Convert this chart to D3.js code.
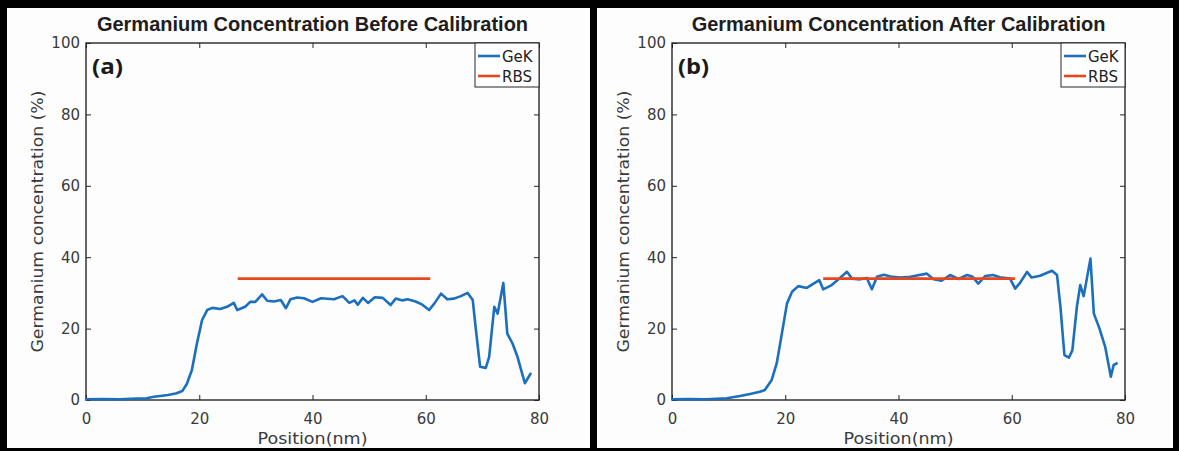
<!DOCTYPE html>
<html><head><meta charset="utf-8">
<script src="https://cdn.jsdelivr.net/npm/d3@7"></script>
<style>body{margin:0;background:#000}svg{display:block}</style>
</head><body><svg id="c" width="1179" height="451"></svg>
<script>
// ---------- data ----------
const titles = ["Germanium Concentration Before Calibration", "Germanium Concentration After Calibration"];
const tags = ["(a)", "(b)"];
const xLabel = "Position(nm)";
const yLabel = "Germanium concentration (%)";
const seriesNames = ["GeK", "RBS"];
const xTicks = [0, 20, 40, 60, 80];
const yTicks = [0, 20, 40, 60, 80, 100];

const positionA = [0,3,6,9,10.7,12,13.1,14.5,16,17,17.8,18.7,19.6,20.5,21.4,22.3,23.7,24.9,26.1,26.7,28.1,29,29.9,31.1,32,33.2,34.4,35.3,36.1,37.3,38.5,40,41.5,43.8,45.3,46.5,47.4,48,48.9,49.8,51,52.4,53.8,54.7,55.9,56.8,58.2,59.4,60.6,61.5,62.7,63.8,65,66.2,67.4,68.3,68.8,69.6,70.6,71.2,72.1,72.7,73.7,74.4,75.3,76.2,77.5,78.6];
const gekA = [0.2,0.3,0.2,0.4,0.5,0.9,1.1,1.4,1.9,2.5,4.5,8.4,15.9,22.4,25.2,25.8,25.5,26.1,27.2,25.2,26.1,27.5,27.5,29.6,27.8,27.6,28,25.7,28.2,28.7,28.5,27.5,28.5,28.2,29.1,27.2,27.9,26.7,28.6,27.2,28.8,28.6,26.6,28.4,27.9,28.2,27.6,26.7,25.2,27,29.8,28.2,28.4,29.1,30,28,20.5,9.3,9.0,12.1,26.1,24.2,32.8,18.6,15.9,12.1,4.7,7.6];
const rbsPosA = [26.8, 60.8];
const rbsA = [34, 34];

const positionB = [0,3,6,9.7,12,13.8,15.5,16.4,17.6,18.5,19.4,20.3,21.2,22.3,23.8,25,26,26.7,28.2,29.1,30.9,31.8,33.2,34.4,35.3,36.2,37.4,38.6,40.3,42.1,45,46.2,47.6,49.1,50.6,52.1,53,54.1,55.3,56.7,57.9,59.7,60.6,61.5,62.7,63.5,65,67.1,68,68.6,69.3,70.1,70.7,71.5,72.1,72.7,73.9,74.5,75.5,76.5,77.5,78,78.7];
const gekB = [0.2,0.3,0.2,0.5,1.1,1.7,2.3,2.8,5.6,10.3,18.6,27,30.3,31.9,31.4,32.6,33.6,31,32.2,33.4,35.9,34,33.8,34.2,31,34.5,35.1,34.6,34.3,34.5,35.4,33.8,33.4,35,33.9,35,34.6,32.6,34.7,35,34.4,34,31.2,32.9,35.9,34.3,34.8,36.2,35,26.1,12.6,11.9,13.9,26.1,32.2,29.1,39.6,24.2,20,14.9,6.5,9.8,10.4];
const rbsPosB = [26.7, 60.6];
const rbsB = [34, 34];

// ---------- drawing ----------
const svg = d3.select('#c');
svg.append('rect').attr('width',1179).attr('height',451).attr('fill','#000');

const panels = [
  {bg:[7,8,583,440], left:86, pos:positionA, val:gekA, rx:rbsPosA, ry:rbsA, i:0},
  {bg:[597,8,576,440], left:672, pos:positionB, val:gekB, rx:rbsPosB, ry:rbsB, i:1}
];
const plotTop = 43, W = 453, H = 357;
const blue = "#1b6fbc", red = "#e8461c", axisCol = "#262626", txtCol = "#3a3a3a";

panels.forEach(p => {
  svg.append('rect').attr('x',p.bg[0]).attr('y',p.bg[1]).attr('width',p.bg[2]).attr('height',p.bg[3]).attr('fill','#fdfdfd');
  const g = svg.append('g').attr('transform',`translate(${p.left},${plotTop})`);
  const x = d3.scaleLinear().domain([0,80]).range([0,W]);
  const y = d3.scaleLinear().domain([0,100]).range([H,0]);

  const styleAxis = a => {
    a.select('.domain').remove();
    a.selectAll('line').attr('stroke',axisCol).attr('stroke-width',1);
    a.selectAll('text').attr('fill',txtCol).style('font-family','"DejaVu Sans", sans-serif').style('font-size','15px');
  };
  g.append('g').attr('transform',`translate(0,${H})`)
    .call(d3.axisBottom(x).tickValues(xTicks).tickSize(-5).tickPadding(13)).call(styleAxis);
  g.append('g').call(d3.axisLeft(y).tickValues(yTicks).tickSize(-5).tickPadding(6)).call(styleAxis);
  g.append('g').call(d3.axisTop(x).tickValues(xTicks).tickSize(-5).tickFormat('')).call(styleAxis);
  g.append('g').attr('transform',`translate(${W},0)`)
    .call(d3.axisRight(y).tickValues(yTicks).tickSize(-5).tickFormat('')).call(styleAxis);
  g.append('rect').attr('width',W).attr('height',H).attr('fill','none').attr('stroke',axisCol).attr('stroke-width',1.4);

  // lines
  const line = d3.line().x(d=>x(d[0])).y(d=>y(d[1]));
  const gekPts = p.pos.map((v,k)=>[v,p.val[k]]);
  const rbsPts = p.rx.map((v,k)=>[v,p.ry[k]]);
  g.append('path').attr('d',line(gekPts)).attr('fill','none').attr('stroke',blue).attr('stroke-width',2.6).attr('stroke-linejoin','round');
  g.append('path').attr('d',line(rbsPts)).attr('fill','none').attr('stroke',red).attr('stroke-width',2.8);

  // title
  g.append('text').attr('x',W/2).attr('y',-12).attr('text-anchor','middle')
    .style('font-family','"Liberation Sans", Arial, sans-serif').style('font-weight','bold').style('font-size','20px')
    .attr('fill','#1e1e1e').text(titles[p.i]);
  // tag
  g.append('text').attr('x',6).attr('y',31).attr('textLength',31).attr('lengthAdjust','spacingAndGlyphs')
    .style('font-family','"Open Sans", sans-serif').style('font-weight','bold').style('font-size','22px')
    .attr('fill','#1a1a1a').text(tags[p.i]);
  // axis labels
  g.append('text').attr('x',W/2).attr('y',H+44).attr('text-anchor','middle')
    .attr('textLength',110).attr('lengthAdjust','spacingAndGlyphs')
    .style('font-family','"DejaVu Sans", sans-serif').style('font-size','16px').attr('fill',txtCol).text(xLabel);
  g.append('text').attr('transform',`translate(${-49},${H/2}) rotate(-90)`).attr('text-anchor','middle')
    .attr('dominant-baseline','central').attr('textLength',262).attr('lengthAdjust','spacingAndGlyphs')
    .style('font-family','"DejaVu Sans", sans-serif').style('font-size','16px').attr('fill',txtCol).text(yLabel);

  // legend
  const lg = g.append('g').attr('transform',`translate(${W-64},0)`);
  lg.append('rect').attr('width',64).attr('height',44).attr('fill','#fff').attr('stroke',axisCol).attr('stroke-width',1);
  [blue, red].forEach((c,k) => {
    const yy = 13 + k*20;
    lg.append('line').attr('x1',3).attr('x2',25).attr('y1',yy).attr('y2',yy).attr('stroke',c).attr('stroke-width',2.6);
    lg.append('text').attr('x',27).attr('y',yy+5.5)
      .style('font-family','"DejaVu Sans", sans-serif').style('font-size','15px').attr('fill','#222').text(seriesNames[k]);
  });
});
</script></body></html>
